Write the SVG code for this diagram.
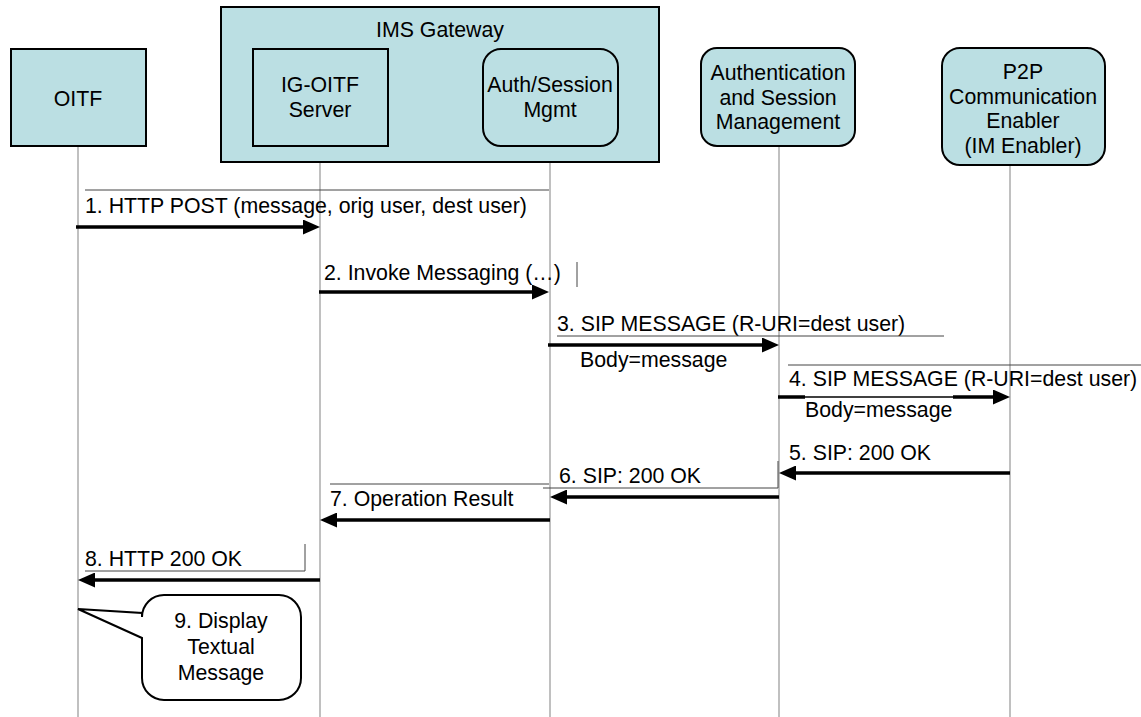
<svg xmlns="http://www.w3.org/2000/svg" width="1141" height="717" viewBox="0 0 1141 717">
<style>
text{font-family:"Liberation Sans",Arial,sans-serif;font-size:21.3px;fill:#000}
.c{text-anchor:middle}
.box{fill:#bbdfe3;stroke:#000;stroke-width:2}
.life{stroke:#c0c0c0;stroke-width:2}
.frame{stroke:#444;stroke-width:1;fill:none}
.msg{stroke:#000;stroke-width:3.5;fill:none}
.thin{stroke:#000;stroke-width:1.5}
</style>
<defs>
<marker id="ah" markerUnits="userSpaceOnUse" markerWidth="17" markerHeight="15" refX="7" refY="7.5" orient="auto">
<path d="M0,0 L17,7.5 L0,15 z" fill="#000"/>
</marker>
</defs>
<rect width="1141" height="717" fill="#fff"/>
<g id="lifelines">
<line class="life" x1="78" y1="146" x2="78" y2="717"/>
<line class="life" x1="320" y1="146" x2="320" y2="717"/>
<line class="life" x1="550" y1="146" x2="550" y2="717"/>
<line class="life" x1="779" y1="146" x2="779" y2="717"/>
<line class="life" x1="1010" y1="165" x2="1010" y2="717"/>
</g>
<g id="oitf">
<rect class="box" x="11" y="49" width="135" height="97"/>
<text class="c" x="78" y="106">OITF</text>
</g>
<g id="ims-gateway">
<rect class="box" x="221" y="7" width="438" height="155"/>
<text class="c" x="440" y="37">IMS Gateway</text>
</g>
<g id="ig-oitf-server">
<rect class="box" x="253" y="49" width="135" height="97"/>
<text class="c" x="320" y="92">IG-OITF</text>
<text class="c" x="320" y="117">Server</text>
</g>
<g id="auth-session-mgmt">
<rect class="box" x="483" y="49" width="135" height="97" rx="18"/>
<text class="c" x="550" y="92">Auth/Session</text>
<text class="c" x="550" y="117">Mgmt</text>
</g>
<g id="authentication-session-management">
<rect class="box" x="701" y="48" width="154" height="98" rx="16"/>
<text class="c" x="778" y="80">Authentication</text>
<text class="c" x="778" y="105">and Session</text>
<text class="c" x="778" y="129">Management</text>
</g>
<g id="p2p-enabler">
<rect class="box" x="942" y="48" width="163" height="117" rx="18"/>
<text class="c" x="1023" y="79">P2P</text>
<text class="c" x="1023" y="104">Communication</text>
<text class="c" x="1023" y="128">Enabler</text>
<text class="c" x="1023" y="153">(IM Enabler)</text>
</g>
<g id="connectors">
<line class="frame" x1="85" y1="190" x2="549" y2="190"/>
<text x="85" y="213">1. HTTP POST (message, orig user, dest user)</text>
<line class="msg" x1="76" y1="227" x2="310" y2="227" marker-end="url(#ah)"/>

<text x="324" y="280">2. Invoke Messaging (…)</text>
<line class="frame" x1="577" y1="262" x2="577" y2="287"/>
<line class="msg" x1="319" y1="292" x2="539" y2="292" marker-end="url(#ah)"/>

<text x="557" y="331">3. SIP MESSAGE (R-URI=dest user)</text>
<line class="frame" x1="557" y1="336" x2="944" y2="336"/>
<line class="msg" x1="548" y1="345" x2="769" y2="345" marker-end="url(#ah)"/>
<text x="580" y="367">Body=message</text>

<line class="frame" x1="788" y1="365" x2="1141" y2="365"/>
<text x="789" y="386">4. SIP MESSAGE (R-URI=dest user)</text>
<line class="msg" x1="778" y1="397" x2="805" y2="397"/>
<line class="thin" x1="805" y1="397" x2="953" y2="397"/>
<line class="msg" x1="953" y1="397" x2="1000" y2="397" marker-end="url(#ah)"/>
<text x="805" y="417">Body=message</text>

<text x="789" y="460">5. SIP: 200 OK</text>
<line class="msg" x1="1010" y1="473" x2="789" y2="473" marker-end="url(#ah)"/>

<text x="559" y="483">6. SIP: 200 OK</text>
<polyline class="frame" points="543,488 778,488 778,461"/>
<line class="msg" x1="779" y1="497" x2="560" y2="497" marker-end="url(#ah)"/>

<line class="frame" x1="330" y1="484" x2="549" y2="484"/>
<text x="330" y="506">7. Operation Result</text>
<line class="msg" x1="550" y1="520" x2="330" y2="520" marker-end="url(#ah)"/>

<text x="85" y="566">8. HTTP 200 OK</text>
<polyline class="frame" points="85,571 305,571 305,544"/>
<line class="msg" x1="320" y1="580" x2="88" y2="580" marker-end="url(#ah)"/>
</g>
<g id="callout">
<path d="M164,595 H279 A22,22 0 0 1 301,617 V678 A22,22 0 0 1 279,700 H164 A22,22 0 0 1 142,678 V638 L78,609 L142,613 V617 A22,22 0 0 1 164,595 Z" fill="#fff" stroke="#000" stroke-width="2"/>
<text class="c" x="221" y="628">9. Display</text>
<text class="c" x="221" y="654">Textual</text>
<text class="c" x="221" y="680">Message</text>
</g>
</svg>
